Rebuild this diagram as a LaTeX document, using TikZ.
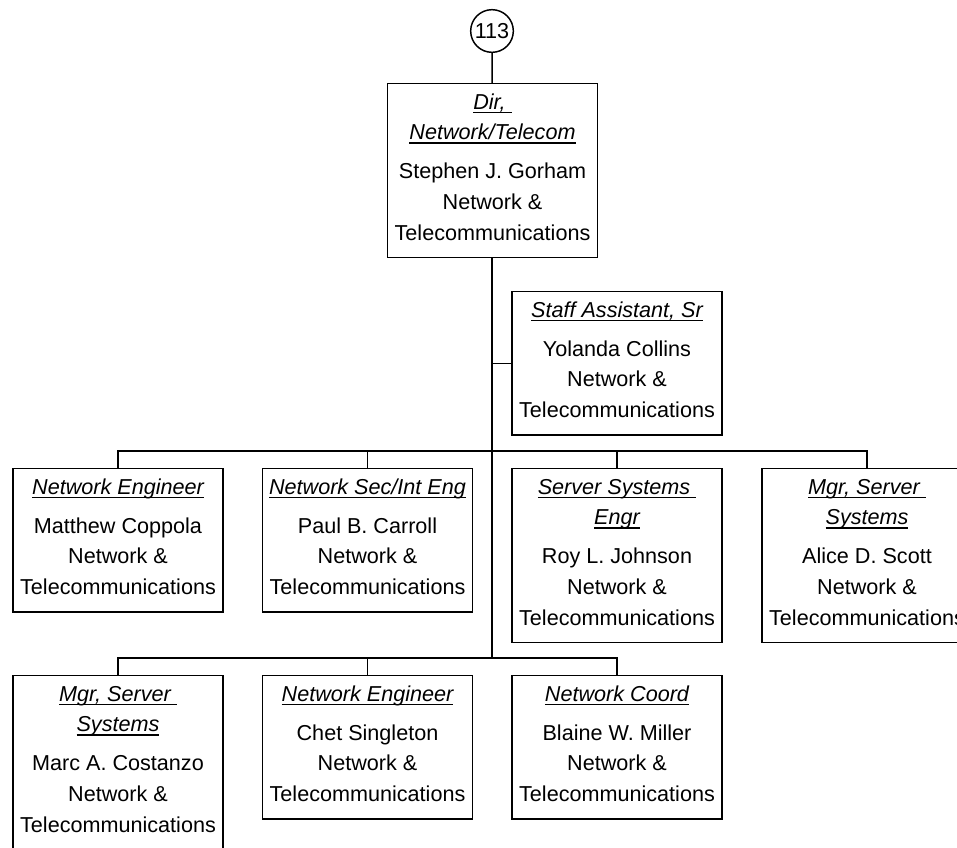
\documentclass[tikz,border=0pt]{standalone}
\usepackage{fontspec}
\setmainfont{Liberation Sans}
\usetikzlibrary{positioning}

% underlined italic job title
\newcommand{\undl}[1]{\setbox0\hbox{\itshape #1}\rlap{\rule[-3pt]{\wd0}{1.3pt}}\box0}
% first title line (with top strut), department lines (with bottom strut)
\newcommand{\ttl}[1]{\rule{0pt}{19.2pt}\undl{#1}}
\newcommand{\dept}{Network \&\ \\Telecommunications\rule[-13pt]{0pt}{13pt}}
\newcommand{\tgap}{\\[6.4pt]}

\begin{document}
\begin{tikzpicture}[x=0.75pt,y=-0.75pt,
    line width=1.1pt,
    every node/.style={font=\fontsize{16.2pt}{22.9pt}\selectfont},
    person/.style={draw, align=center, anchor=north, minimum width=157.5pt,
      inner xsep=0pt, inner ysep=0pt},
    pagenum/.style={draw, circle, minimum size=32pt, inner sep=0pt}]
      \useasboundingbox (0,0) rectangle (957,847);
      \clip (0,0) rectangle (957,847);

      % Page connector
      \node[pagenum] (pg) at (492,31) {113};

      % Director
      \node[person] (dir) at (492.5,83) {\ttl{Dir,\ }\\\undl{Network/Telecom}\tgap
        Stephen J. Gorham\\\dept};

      % Staff assistant
      \node[person] (staff) at (617,291) {\ttl{Staff Assistant, Sr}\tgap
        Yolanda Collins\\\dept};

      % First row
      \node[person] (neteng) at (118,468) {\ttl{Network Engineer}\tgap
        Matthew Coppola\\\dept};
      \node[person] (netsec) at (367.5,468) {\ttl{Network Sec/Int Eng}\tgap
        Paul B. Carroll\\\dept};
      \node[person] (srveng) at (617,468) {\ttl{Server Systems\ }\\\undl{Engr}\tgap
        Roy L. Johnson\\\dept};
      \node[person] (mgrA) at (867,468) {\ttl{Mgr, Server\ }\\\undl{Systems}\tgap
        Alice D. Scott\\\dept};

      % Second row
      \node[person] (mgrB) at (118,675) {\ttl{Mgr, Server\ }\\\undl{Systems}\tgap
        Marc A. Costanzo\\\dept};
      \node[person] (neteng2) at (367.5,675) {\ttl{Network Engineer}\tgap
        Chet Singleton\\\dept};
      \node[person] (coord) at (617,675) {\ttl{Network Coord}\tgap
        Blaine W. Miller\\\dept};

      % bus points on the spine
      \coordinate (bus1) at (492,451);
      \coordinate (bus2) at (492,658);

      \draw (pg) -- (dir);
      \draw (dir.south -| bus2) -- (bus2);
      \draw (staff.west) -- (staff.west -| bus2);

      % drops to the rows
      \foreach \n in {neteng, netsec, srveng, mgrA}{
          \draw (\n.north) |- (bus1);
        }
      \foreach \n in {mgrB, neteng2, coord}{
          \draw (\n.north) |- (bus2);
        }

    \end{tikzpicture}
\end{document}
